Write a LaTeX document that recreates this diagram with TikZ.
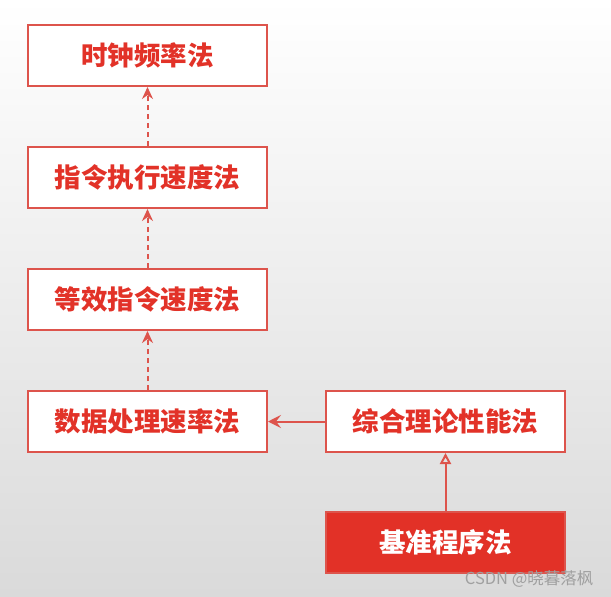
\documentclass[tikz,border=0pt]{standalone}
\usepackage{fontspec}
\newfontfamily\cjk{Noto Sans CJK SC}
\usetikzlibrary{arrows.meta}
\definecolor{boxred}{RGB}{221,84,76}
\definecolor{txtred}{RGB}{226,50,40}
\definecolor{fillred}{RGB}{226,49,39}
\tikzset{
  method/.style={draw=boxred, line width=2pt, fill=white, minimum width=239pt, minimum height=61pt,
    inner sep=0pt, text=txtred, font=\cjk\bfseries\fontsize{26.5}{26.5}\selectfont},
  basebox/.style={method, fill=fillred, draw=boxred, text=white},
  derive/.style={boxred, line width=2pt, dash pattern=on 5pt off 4pt, -{Stealth[length=12pt,width=11pt]}}
}
\begin{document}
\begin{tikzpicture}[x=1pt,y=-1pt]
\shade[top color=white, middle color={rgb,255:red,242;green,242;blue,242}, bottom color={rgb,255:red,218;green,218;blue,218}] (0,0) rectangle (611,597);
\useasboundingbox (0,0) rectangle (611,597);
\node[method] (clock) at (147.5,55.5) {时钟频率法};
\node[method] (instr) at (147.5,177.5) {指令执行速度法};
\node[method] (equiv) at (147.5,299.5) {等效指令速度法};
\node[method] (data) at (147.5,421.5) {数据处理速率法};
\node[method] (theory) at (445.5,421.5) {综合理论性能法};
\node[basebox] (bench) at (445.5,542.5) {基准程序法};
\draw[derive] (instr.north) -- (clock.south);
\draw[derive] (equiv.north) -- (instr.south);
\draw[derive] (data.north) -- (equiv.south);
\draw[boxred, line width=2pt, -{Stealth[length=13pt,width=13pt,inset=5pt]}] (theory.west) -- (data.east);
\draw[boxred, line width=2pt, -{Triangle[open,length=11pt,width=11pt]}] (bench.north) -- (theory.south);
\node[text={rgb,255:red,160;green,160;blue,160}, font=\cjk\fontsize{16.5}{16.5}\selectfont, anchor=east] (mark) at (597,579) {CSDN @晓暮落枫};
\end{tikzpicture}
\end{document}
